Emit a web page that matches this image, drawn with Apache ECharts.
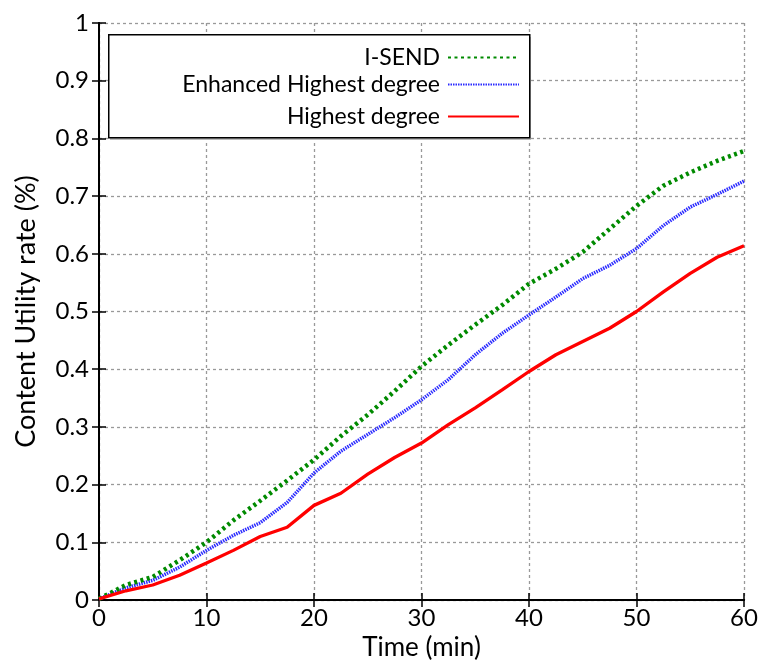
<!DOCTYPE html>
<html>
<head>
<meta charset="utf-8">
<script src="https://cdn.jsdelivr.net/npm/echarts@6/dist/echarts.min.js"></script>
<style>html,body{margin:0;padding:0;background:#fff}#c{width:761px;height:666px}</style>
</head>
<body>
<div id="c"></div>
<script>
const times = [0, 2.5, 5, 7.5, 10, 12.5, 15, 17.5, 20, 22.5, 25, 27.5, 30, 32.5, 35, 37.5, 40, 42.5, 45, 47.5, 50, 52.5, 55, 57.5, 60];
const isend = [0.002, 0.026, 0.040, 0.069, 0.100, 0.138, 0.172, 0.207, 0.243, 0.284, 0.321, 0.362, 0.405, 0.442, 0.477, 0.511, 0.548, 0.574, 0.603, 0.643, 0.683, 0.718, 0.741, 0.761, 0.778];
const enhanced = [0.002, 0.021, 0.034, 0.057, 0.086, 0.112, 0.134, 0.169, 0.220, 0.258, 0.287, 0.316, 0.347, 0.382, 0.425, 0.462, 0.494, 0.525, 0.557, 0.580, 0.609, 0.649, 0.681, 0.703, 0.726];
const highest = [0.002, 0.016, 0.026, 0.043, 0.064, 0.086, 0.110, 0.126, 0.164, 0.185, 0.218, 0.247, 0.272, 0.304, 0.333, 0.364, 0.396, 0.425, 0.448, 0.471, 0.500, 0.534, 0.566, 0.594, 0.614];
const seriesNames = ['I-SEND', 'Enhanced Highest degree', 'Highest degree'];
const xTicks = [0, 10, 20, 30, 40, 50, 60];
const yTicks = [0, 0.1, 0.2, 0.3, 0.4, 0.5, 0.6, 0.7, 0.8, 0.9, 1];

const FONT = 'Lato';
const pairs = arr => times.map((t, i) => [t, arr[i]]);
const chart = echarts.init(document.getElementById('c'), null, {renderer: 'canvas'});
const gridLine = {show: true, lineStyle: {color: '#999', width: 1.3, type: [3, 3]}};
const axisLine = {show: true, lineStyle: {color: '#000', width: 2}};
const tick = {show: true, inside: true, length: 7, lineStyle: {color: '#000', width: 1.5}};
const legendBase = {
  align: 'right', itemWidth: 71, itemHeight: 14, itemGap: 0,
  itemStyle: {opacity: 0},
  textStyle: {fontFamily: FONT, fontSize: 23, color: '#000', padding: [0, 3, 0, 0]},
  right: 236
};
chart.setOption({
  animation: false,
  backgroundColor: '#fff',
  grid: {left: 99, right: 17, top: 23, bottom: 63, containLabel: false},
  xAxis: [{
    type: 'value', min: 0, max: 60, interval: 10,
    name: 'Time (min)', nameLocation: 'middle', nameGap: 35,
    nameTextStyle: {fontFamily: FONT, fontSize: 26, color: '#000'},
    axisLine, axisTick: tick, splitLine: gridLine,
    axisLabel: {fontFamily: FONT, fontSize: 24, color: '#000', margin: 6,
      formatter: v => xTicks.includes(v) ? String(v) : ''}
  }, {
    type: 'value', position: 'top', min: 0, max: 60, interval: 10,
    axisLine, axisTick: tick, axisLabel: {show: false}, splitLine: {show: false}
  }],
  yAxis: [{
    type: 'value', min: 0, max: 1, interval: 0.1,
    name: 'Content Utility rate (%)', nameLocation: 'middle', nameGap: 59,
    nameTextStyle: {fontFamily: FONT, fontSize: 27, color: '#000'},
    axisLine, axisTick: tick, splitLine: gridLine,
    axisLabel: {fontFamily: FONT, fontSize: 24, color: '#000', margin: 10,
      formatter: v => { const y = yTicks.find(t => Math.abs(t - v) < 1e-6); return y === undefined ? '' : String(y); }}
  }, {
    type: 'value', position: 'right', min: 0, max: 1, interval: 0.1,
    axisLine, axisTick: tick, axisLabel: {show: false}, splitLine: {show: false}
  }],
  graphic: [
    {type: 'rect', left: 110, top: 37, z: 90, shape: {width: 421, height: 103},
      style: {fill: '#bbb'}},
    {type: 'rect', left: 108, top: 34, z: 91, shape: {width: 421, height: 103},
      style: {fill: '#fff', stroke: '#000', lineWidth: 1.5}}
  ],
  legend: [
    Object.assign({}, legendBase, {data: [seriesNames[0]], top: 41, z: 100}),
    Object.assign({}, legendBase, {data: [seriesNames[1]], top: 68, z: 100}),
    Object.assign({}, legendBase, {data: [seriesNames[2]], top: 100, z: 100})
  ],
  series: [
    {name: seriesNames[0], type: 'line', data: pairs(isend), symbol: 'none', smooth: false,
      lineStyle: {color: '#008a00', width: 4.5, type: [3, 3.5]}, itemStyle: {color: '#008a00'}, z: 4},
    {name: seriesNames[1], type: 'line', data: pairs(enhanced), symbol: 'none',
      lineStyle: {color: '#2b2bff', width: 3.5, type: [1.5, 1]}, itemStyle: {color: '#2b2bff'}, z: 3},
    {name: seriesNames[2], type: 'line', data: pairs(highest), symbol: 'none',
      lineStyle: {color: '#ff0000', width: 3.3}, itemStyle: {color: '#ff0000'}, z: 5}
  ]
});
</script>
</body>
</html>
